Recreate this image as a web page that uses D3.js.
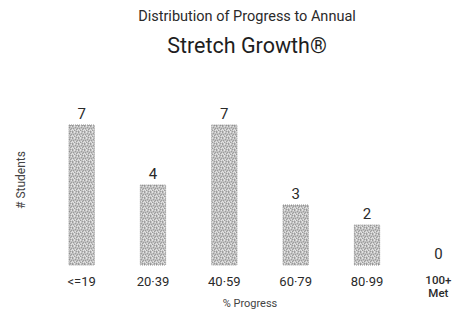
<!DOCTYPE html>
<html><head><meta charset="utf-8">
<script src="https://cdn.jsdelivr.net/npm/d3@7"></script>
<style>body{margin:0;background:#fff}svg{display:block}text{font-family:Roboto,"Noto Sans",sans-serif}</style>
</head><body>
<svg id="c" width="457" height="316"></svg>
<script>
const categories = ["<=19","20-39","40-59","60-79","80-99","100+\nMet"];
const values = [7,4,7,3,2,0];
const titleLines = ["Distribution of Progress to Annual","Stretch Growth®"];
const xTitle = "% Progress";
const yTitle = "# Students";

const svg = d3.select("#c");
const defs = svg.append("defs");
// grainy texture pattern (fixed styling)
const pat = defs.append("pattern").attr("id","grain").attr("patternUnits","userSpaceOnUse").attr("width",6).attr("height",6);
pat.append("rect").attr("width",6).attr("height",6).attr("fill","#c2c2c2");
const dark = [[0,0],[3,1],[1,2],[5,2],[2,4],[4,3],[0,5],[4,5]];
const light = [[2,0],[5,0],[0,3],[3,3],[1,4],[5,4],[2,5]];
pat.selectAll("rect.d").data(dark).join("rect").attr("class","d").attr("x",d=>d[0]).attr("y",d=>d[1]).attr("width",1).attr("height",1).attr("fill","#9c9c9c");
pat.selectAll("rect.l").data(light).join("rect").attr("class","l").attr("x",d=>d[0]).attr("y",d=>d[1]).attr("width",1).attr("height",1).attr("fill","#e4e4e4");

const x = d3.scaleBand().domain(categories).range([46,474]).paddingInner(0.645).paddingOuter(0.322);
const y = d3.scaleLinear().domain([0,7]).range([265,125]);

svg.append("text").attr("x",247).attr("y",21).attr("text-anchor","middle").attr("font-size",14.5).attr("fill","#2a2a2a").text(titleLines[0]);
svg.append("text").attr("x",247).attr("y",53).attr("text-anchor","middle").attr("font-size",21.5).attr("fill","#1e1e1e").text(titleLines[1]);

svg.append("g").selectAll("rect").data(values).join("rect")
  .attr("x",(d,i)=>x(categories[i])).attr("width",x.bandwidth())
  .attr("y",d=>y(d)).attr("height",d=>y(0)-y(d))
  .attr("fill","url(#grain)").attr("stroke","#7a7a7a").attr("stroke-width",0.8).attr("stroke-dasharray","1,1");

svg.append("g").selectAll("text").data(values).join("text")
  .attr("x",(d,i)=>x(categories[i])+x.bandwidth()/2)
  .attr("y",d=>y(d)-6).attr("text-anchor","middle").attr("font-size",15).attr("fill","#2a2a2a").text(d=>d);

const ax = svg.append("g").attr("transform","translate(0,265)").call(d3.axisBottom(x).tickSize(0).tickPadding(0).tickFormat(""));
ax.select(".domain").remove();
ax.selectAll(".tick").each(function(d){
  const parts = d.split("\n");
  const t = d3.select(this).append("text").attr("fill","#2a2a2a").attr("font-size",parts.length>1?11.5:13).attr("font-weight",parts.length>1?500:400).attr("text-anchor","middle");
  parts.forEach((s,i)=>t.append("tspan").attr("x",0).attr("y",(parts.length>1?19:21)+i*13).text(s.replace(/-/g,"·")));
});

svg.append("text").attr("x",250).attr("y",307).attr("text-anchor","middle").attr("font-size",11).attr("fill","#444").text(xTitle);
svg.append("text").attr("transform","translate(25,180) rotate(-90)").attr("text-anchor","middle").attr("font-size",12).attr("fill","#444").text(yTitle);
</script>
</body></html>
